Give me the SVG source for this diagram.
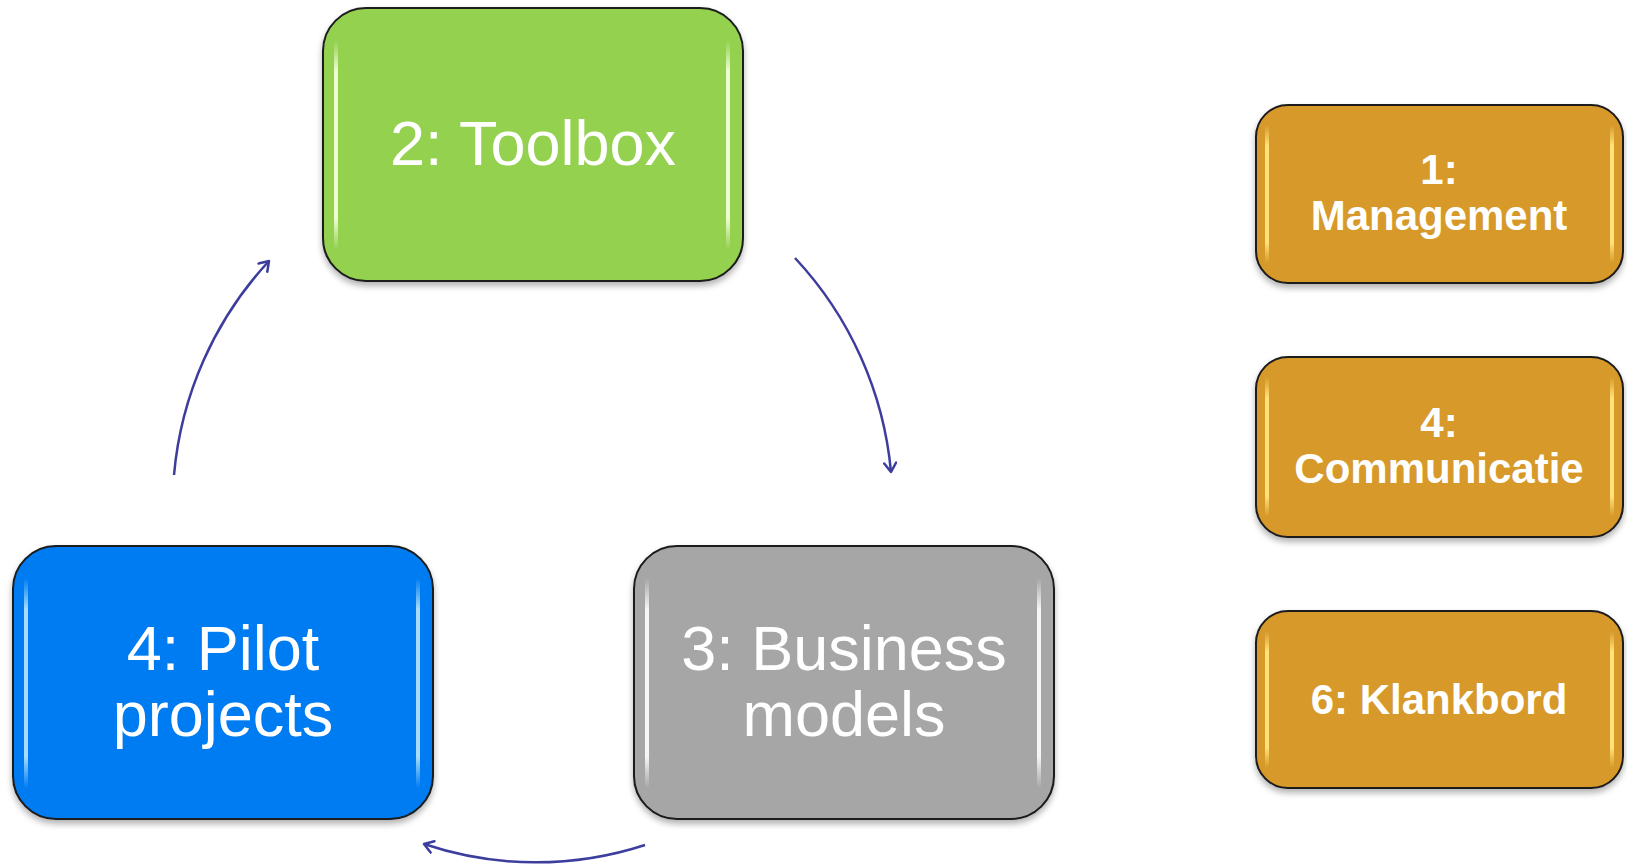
<svg xmlns="http://www.w3.org/2000/svg" width="1627" height="865" viewBox="0 0 1627 865">
  <style>
    .box { stroke: #1a1a1a; stroke-width: 2; filter: url(#shadow); }
    .big { font-family: "Liberation Sans", Arial, sans-serif; font-size: 63px; fill: #ffffff; text-anchor: middle; }
    .small { font-family: "Liberation Sans", Arial, sans-serif; font-size: 42px; font-weight: bold; fill: #ffffff; text-anchor: middle; }
    .conn { fill: none; stroke: #3d3d9e; stroke-width: 2.5; marker-end: url(#arrow); }
  </style>
  <defs>
    <filter id="shadow" x="-10%" y="-10%" width="120%" height="125%">
      <feDropShadow dx="0" dy="4" stdDeviation="3" flood-color="#000000" flood-opacity="0.3"/>
    </filter>
    <linearGradient id="hlG" x1="0" y1="0" x2="0" y2="1">
      <stop offset="0" stop-color="#f2ffd8" stop-opacity="0"/>
      <stop offset="0.15" stop-color="#f2ffd8" stop-opacity="0.95"/>
      <stop offset="0.85" stop-color="#f2ffd8" stop-opacity="0.95"/>
      <stop offset="1" stop-color="#f2ffd8" stop-opacity="0"/>
    </linearGradient>
    <linearGradient id="hlB" x1="0" y1="0" x2="0" y2="1">
      <stop offset="0" stop-color="#a8dcff" stop-opacity="0"/>
      <stop offset="0.15" stop-color="#a8dcff" stop-opacity="1"/>
      <stop offset="0.85" stop-color="#a8dcff" stop-opacity="1"/>
      <stop offset="1" stop-color="#a8dcff" stop-opacity="0"/>
    </linearGradient>
    <linearGradient id="hlS" x1="0" y1="0" x2="0" y2="1">
      <stop offset="0" stop-color="#ffffff" stop-opacity="0"/>
      <stop offset="0.15" stop-color="#ffffff" stop-opacity="0.9"/>
      <stop offset="0.85" stop-color="#ffffff" stop-opacity="0.9"/>
      <stop offset="1" stop-color="#ffffff" stop-opacity="0"/>
    </linearGradient>
    <linearGradient id="hlO" x1="0" y1="0" x2="0" y2="1">
      <stop offset="0" stop-color="#ffe27a" stop-opacity="0"/>
      <stop offset="0.15" stop-color="#ffe27a" stop-opacity="1"/>
      <stop offset="0.85" stop-color="#ffe27a" stop-opacity="1"/>
      <stop offset="1" stop-color="#ffe27a" stop-opacity="0"/>
    </linearGradient>
    <marker id="arrow" markerUnits="userSpaceOnUse" markerWidth="16" markerHeight="16" refX="11" refY="7" orient="auto">
      <path d="M2,1 L11,7 L2,13" fill="none" stroke="#3d3d9e" stroke-width="2.5" stroke-linecap="round" stroke-linejoin="round"/>
    </marker>
  </defs>

  <g id="connectors">
    <path class="conn" d="M174,475 A362,362 0 0 1 269,261"/>
    <path class="conn" d="M795,258 A362,362 0 0 1 891,472"/>
    <path class="conn" d="M645,845 A351,351 0 0 1 424,844"/>
  </g>

  <g id="node-toolbox">
    <rect class="box" x="323" y="8" width="420" height="273" rx="43" ry="43" fill="#93d150"/>
    <rect x="334" y="40" width="4" height="210" fill="url(#hlG)"/>
    <rect x="726" y="40" width="4" height="210" fill="url(#hlG)"/>
    <text class="big" x="533" y="165">2: Toolbox</text>
  </g>

  <g id="node-pilot">
    <rect class="box" x="13" y="546" width="420" height="273" rx="43" ry="43" fill="#027cf2"/>
    <rect x="24" y="578" width="4" height="210" fill="url(#hlB)"/>
    <rect x="416" y="578" width="4" height="210" fill="url(#hlB)"/>
    <text class="big" x="223" y="670">4: Pilot</text>
    <text class="big" x="223" y="736">projects</text>
  </g>

  <g id="node-business">
    <rect class="box" x="634" y="546" width="420" height="273" rx="43" ry="43" fill="#a6a6a6"/>
    <rect x="645" y="578" width="4" height="210" fill="url(#hlS)"/>
    <rect x="1037" y="578" width="4" height="210" fill="url(#hlS)"/>
    <text class="big" x="844" y="670">3: Business</text>
    <text class="big" x="844" y="736">models</text>
  </g>

  <g id="node-management">
    <rect class="box" x="1256" y="105" width="367" height="178" rx="32" ry="32" fill="#d6992b"/>
    <rect x="1265" y="125" width="4" height="138" fill="url(#hlO)"/>
    <rect x="1610" y="125" width="4" height="138" fill="url(#hlO)"/>
    <text class="small" x="1439" y="184">1:</text>
    <text class="small" x="1439" y="230">Management</text>
  </g>

  <g id="node-communicatie">
    <rect class="box" x="1256" y="357" width="367" height="180" rx="32" ry="32" fill="#d6992b"/>
    <rect x="1265" y="377" width="4" height="140" fill="url(#hlO)"/>
    <rect x="1610" y="377" width="4" height="140" fill="url(#hlO)"/>
    <text class="small" x="1439" y="437">4:</text>
    <text class="small" x="1439" y="483">Communicatie</text>
  </g>

  <g id="node-klankbord">
    <rect class="box" x="1256" y="611" width="367" height="177" rx="32" ry="32" fill="#d6992b"/>
    <rect x="1265" y="631" width="4" height="137" fill="url(#hlO)"/>
    <rect x="1610" y="631" width="4" height="137" fill="url(#hlO)"/>
    <text class="small" x="1439" y="714">6: Klankbord</text>
  </g>
</svg>
